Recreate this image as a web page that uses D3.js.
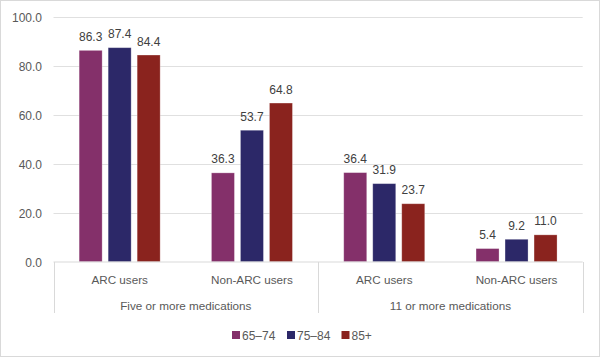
<!DOCTYPE html>
<html><head><meta charset="utf-8">
<script src="https://cdn.jsdelivr.net/npm/d3@7"></script>
<style>body{margin:0;background:#fff;}svg{display:block;font-family:"Liberation Sans",Arial,sans-serif;}</style>
</head><body><svg id="c" width="600" height="357"></svg>
<script>
const groups = ["Five or more medications", "11 or more medications"];
const subCats = ["ARC users", "Non-ARC users"];
const series = ["65–74", "75–84", "85+"];
const colors = ["#84306A", "#2C2868", "#8A231E"];
const values = [
  [86.3, 87.4, 84.4],
  [36.3, 53.7, 64.8],
  [36.4, 31.9, 23.7],
  [5.4, 9.2, 11.0]
];
const yTicks = [0, 20, 40, 60, 80, 100];

const svg = d3.select("#c");
svg.append("rect").attr("x",0.5).attr("y",0.5).attr("width",599).attr("height",356)
  .attr("fill","#fff").attr("stroke","#d9d9d9");

const x0 = 53.5, x1 = 582.7, yTop = 16.8, yBot = 261.8;
const y = d3.scaleLinear().domain([0,100]).range([yBot, yTop]);
const cats = [];
groups.forEach(g => subCats.forEach(s => cats.push(g + "|" + s)));
const x = d3.scaleBand().domain(cats).range([x0, x1]);
const xs = d3.scaleBand().domain(series).range([0, x.bandwidth()]).paddingInner(0.207).paddingOuter(0.884);

// gridlines
svg.append("g").selectAll("line").data(yTicks.filter(d=>d>0)).join("line")
  .attr("x1", x0).attr("x2", x1).attr("y1", d=>Math.round(y(d))+0.5).attr("y2", d=>Math.round(y(d))+0.5)
  .attr("stroke", "#e0e0e0").attr("stroke-width", 1);

// y axis labels
const yAxis = d3.axisLeft(y).tickValues(yTicks).tickFormat(d3.format(".1f")).tickSize(0).tickPadding(0);
const ya = svg.append("g").attr("transform", `translate(42,0.8)`).call(yAxis);
ya.select(".domain").remove();
ya.selectAll("text").attr("fill", "#595959").style("font-size", "12px").style("font-family","inherit");

// bars
const gCat = svg.append("g").selectAll("g").data(values).join("g")
  .attr("transform", (d,i) => `translate(${x(cats[i])},0)`);
gCat.selectAll("rect").data(d => d).join("rect")
  .attr("x", (d,i) => xs(series[i])).attr("width", xs.bandwidth())
  .attr("y", d => y(d)).attr("height", d => y(0) - y(d))
  .attr("fill", (d,i) => colors[i]).attr("stroke", "#ffffff").attr("stroke-opacity", 0.35).attr("stroke-width", 0.8);
gCat.selectAll("text").data(d => d).join("text")
  .attr("x", (d,i) => xs(series[i]) + xs.bandwidth()/2).attr("y", d => y(d) - 9.5)
  .attr("text-anchor", "middle").attr("fill", "#404040").style("font-size", "12px")
  .text(d => d3.format(".1f")(d));

// x axis line
svg.append("line").attr("x1", x0).attr("x2", x1).attr("y1", 262).attr("y2", 262)
  .attr("stroke", "#d9d9d9");
// separators
[x0, (x0+x1)/2, x1].forEach(v => {
  svg.append("line").attr("x1", Math.round(v)+0.5).attr("x2", Math.round(v)+0.5)
    .attr("y1", 262).attr("y2", 313).attr("stroke", "#d9d9d9");
});
// category labels
svg.append("g").selectAll("text").data(cats).join("text")
  .attr("x", d => x(d) + x.bandwidth()/2).attr("y", 283.5)
  .attr("text-anchor", "middle").attr("fill", "#595959").style("font-size", "11.7px")
  .text(d => d.split("|")[1]);
svg.append("g").selectAll("text").data(groups).join("text")
  .attr("x", (d,i) => x0 + (x1-x0)/4 + i*(x1-x0)/2).attr("y", 309.5)
  .attr("text-anchor", "middle").attr("fill", "#595959").style("font-size", "11.7px")
  .text(d => d);

// legend
const legX = [232, 287, 341.5];
const leg = svg.append("g").selectAll("g").data(series).join("g")
  .attr("transform", (d,i) => `translate(${legX[i]},331)`);
leg.append("rect").attr("width", 8).attr("height", 8).attr("fill", (d,i) => colors[i]);
leg.append("text").attr("x", 10).attr("y", 8.5).attr("fill", "#595959").style("font-size", "12px").text(d => d);
</script></body></html>
